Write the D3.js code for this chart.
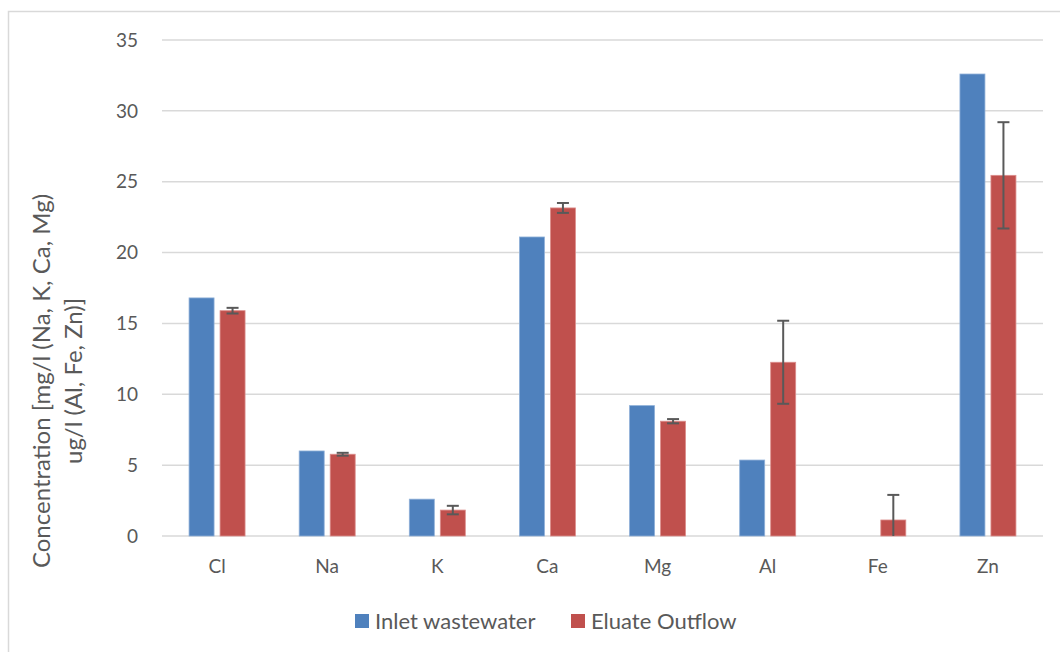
<!DOCTYPE html>
<html>
<head>
<meta charset="utf-8">
<script src="https://cdn.jsdelivr.net/npm/d3@7"></script>
<style>
  body { margin: 0; background: #fff; }
  text { font-family: Lato, "Open Sans", sans-serif; fill: #595959; }
</style>
</head>
<body>
<script>
// chart data
var elements = ["Cl", "Na", "K", "Ca", "Mg", "Al", "Fe", "Zn"];
var inlet = [16.8, 6.0, 2.6, 21.1, 9.2, 5.36, 0, 32.6];
var eluate = [15.9, 5.77, 1.83, 23.15, 8.1, 12.26, 1.13, 25.45];
var eluateErr = [0.2, 0.1, 0.3, 0.35, 0.15, 2.93, 1.77, 3.75];
var seriesNames = ["Inlet wastewater", "Eluate Outflow"];
var yTicks = [0, 5, 10, 15, 20, 25, 30, 35];

var width = 1060, height = 652;
var margin = {left: 162, right: 17, top: 40, bottom: 116};

var svg = d3.select("body").append("svg")
    .attr("width", width)
    .attr("height", height);

// outer frame
svg.append("rect")
    .attr("x", 8.5).attr("y", 11.5)
    .attr("width", 1070).attr("height", 670)
    .attr("fill", "none")
    .attr("stroke", "#d9d9d9")
    .attr("stroke-width", 1.5);

var x = d3.scaleBand()
    .domain(elements)
    .range([margin.left, width - margin.right]);

var y = d3.scaleLinear()
    .domain([0, 35])
    .range([height - margin.bottom, margin.top]);

var barW = 25, gap = 6;

// gridlines
svg.append("g").selectAll("line")
    .data(yTicks)
    .enter().append("line")
    .attr("x1", margin.left)
    .attr("x2", width - margin.right)
    .attr("y1", function(d){ return y(d); })
    .attr("y2", function(d){ return y(d); })
    .attr("stroke", "#d9d9d9")
    .attr("stroke-width", 1.5);

// y tick labels
svg.append("g").selectAll("text")
    .data(yTicks)
    .enter().append("text")
    .attr("x", 138)
    .attr("y", function(d){ return y(d); })
    .attr("dy", "0.35em")
    .attr("text-anchor", "end")
    .style("font-size", "19px")
    .text(function(d){ return d; });

// x labels
svg.append("g").selectAll("text")
    .data(elements)
    .enter().append("text")
    .attr("x", function(d){ return x(d) + x.bandwidth() / 2; })
    .attr("y", height - margin.bottom + 30)
    .attr("dy", "0.35em")
    .attr("text-anchor", "middle")
    .style("font-size", "19px")
    .text(function(d){ return d; });

// bars
var bars = svg.append("g");
bars.selectAll("rect.inlet")
    .data(elements)
    .enter().append("rect")
    .attr("class", "inlet")
    .attr("x", function(d){ return x(d) + x.bandwidth() / 2 - gap / 2 - barW; })
    .attr("y", function(d, i){ return y(inlet[i]); })
    .attr("width", barW)
    .attr("height", function(d, i){ return y(0) - y(inlet[i]); })
    .attr("fill", "#4f81bd")
    .attr("stroke", function(d, i){ return inlet[i] > 0 ? "#8fb0d8" : "none"; })
    .attr("stroke-width", 0.8);

bars.selectAll("rect.eluate")
    .data(elements)
    .enter().append("rect")
    .attr("class", "eluate")
    .attr("x", function(d){ return x(d) + x.bandwidth() / 2 + gap / 2; })
    .attr("y", function(d, i){ return y(eluate[i]); })
    .attr("width", barW)
    .attr("height", function(d, i){ return y(0) - y(eluate[i]); })
    .attr("fill", "#c0504d")
    .attr("stroke", "#dc8e8c")
    .attr("stroke-width", 0.8);

// error bars
var errG = svg.append("g")
    .attr("stroke", "#595959")
    .attr("stroke-width", 2);
elements.forEach(function(d, i){
    var cx = x(d) + x.bandwidth() / 2 + gap / 2 + barW / 2;
    var hi = eluate[i] + eluateErr[i];
    var lo = Math.max(0, eluate[i] - eluateErr[i]);
    errG.append("line")
        .attr("x1", cx).attr("x2", cx)
        .attr("y1", y(hi)).attr("y2", y(lo));
    errG.append("line")
        .attr("x1", cx - 6).attr("x2", cx + 6)
        .attr("y1", y(hi)).attr("y2", y(hi));
    if (eluate[i] - eluateErr[i] > 0) {
        errG.append("line")
            .attr("x1", cx - 6).attr("x2", cx + 6)
            .attr("y1", y(lo)).attr("y2", y(lo));
    }
});

// y axis title
var title = svg.append("text")
    .attr("transform", "translate(42,381) rotate(-90)")
    .attr("text-anchor", "middle")
    .style("font-size", "24px");
title.append("tspan").attr("x", 0).attr("dy", "0.35em")
    .text("Concentration [mg/l (Na, K, Ca, Mg)");
title.append("tspan").attr("x", 0).attr("dy", 32)
    .text("ug/l (Al, Fe, Zn)]");

// legend
var colors = ["#4f81bd", "#c0504d"];
var legendX = [355, 571];
var legend = svg.append("g").selectAll("g")
    .data(seriesNames)
    .enter().append("g")
    .attr("transform", function(d, i){ return "translate(" + legendX[i] + ",621)"; });
legend.append("rect")
    .attr("x", 0).attr("y", -7)
    .attr("width", 14).attr("height", 14)
    .attr("fill", function(d, i){ return colors[i]; });
legend.append("text")
    .attr("x", 20)
    .attr("dy", "0.35em")
    .style("font-size", "22px")
    .text(function(d){ return d; });
</script>
</body>
</html>
